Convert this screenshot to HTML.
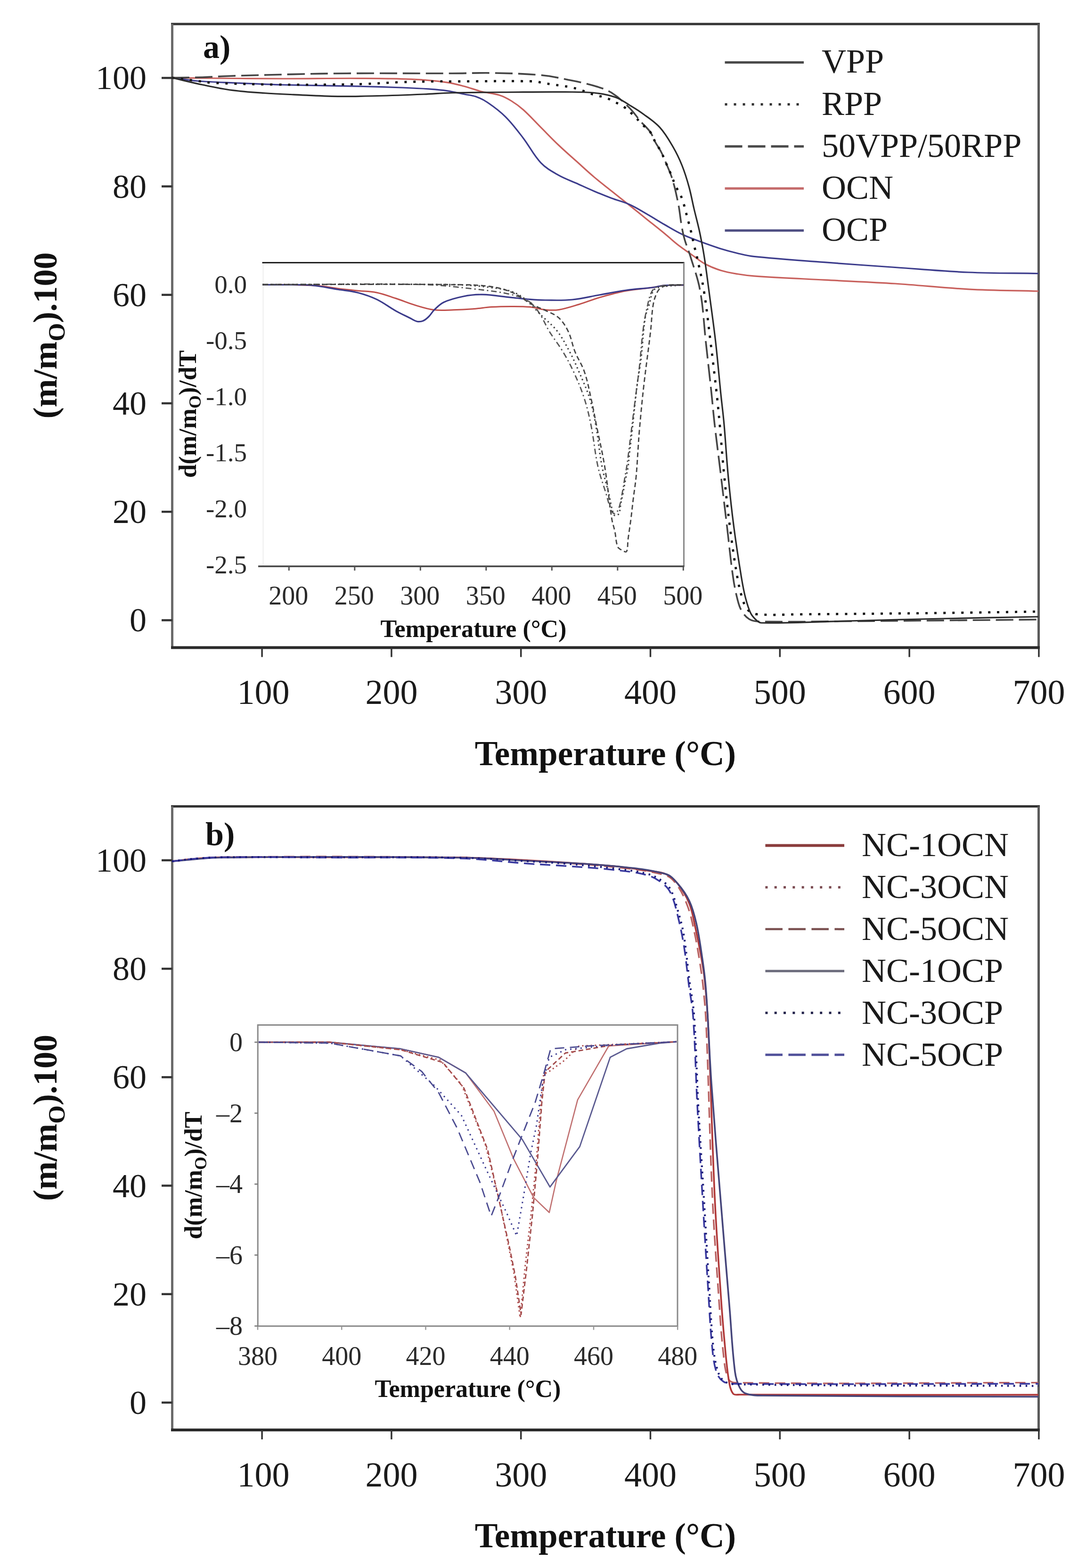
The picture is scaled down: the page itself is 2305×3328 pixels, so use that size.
<!DOCTYPE html>
<html><head><meta charset="utf-8"><title>TGA curves</title>
<style>
html,body{margin:0;padding:0;background:#fff;}
svg{display:block;}
text{font-family:"Liberation Serif","Times New Roman",serif;}
</style></head>
<body>
<svg width="2305" height="3328" viewBox="0 0 2305 3328">
<rect width="2305" height="3328" fill="#fff"/>
<line x1="363.0" y1="51" x2="2207.0" y2="51" stroke="#333" stroke-width="5"/>
<line x1="2204.5" y1="51" x2="2204.5" y2="1374.5" stroke="#5a5a5a" stroke-width="5"/>
<line x1="365.5" y1="51" x2="365.5" y2="1374.5" stroke="#6a6a6a" stroke-width="5"/>
<line x1="363.0" y1="1374.5" x2="2207.0" y2="1374.5" stroke="#2a2a2a" stroke-width="6"/>
<line x1="343" y1="1316.4" x2="365.5" y2="1316.4" stroke="#333" stroke-width="4.5"/>
<text x="311" y="1340.4" font-size="72" text-anchor="end" font-weight="normal" fill="#1a1a1a">0</text>
<line x1="343" y1="1086.2" x2="365.5" y2="1086.2" stroke="#333" stroke-width="4.5"/>
<text x="311" y="1110.2" font-size="72" text-anchor="end" font-weight="normal" fill="#1a1a1a">20</text>
<line x1="343" y1="856" x2="365.5" y2="856" stroke="#333" stroke-width="4.5"/>
<text x="311" y="880" font-size="72" text-anchor="end" font-weight="normal" fill="#1a1a1a">40</text>
<line x1="343" y1="625.8" x2="365.5" y2="625.8" stroke="#333" stroke-width="4.5"/>
<text x="311" y="649.8" font-size="72" text-anchor="end" font-weight="normal" fill="#1a1a1a">60</text>
<line x1="343" y1="395.6" x2="365.5" y2="395.6" stroke="#333" stroke-width="4.5"/>
<text x="311" y="419.6" font-size="72" text-anchor="end" font-weight="normal" fill="#1a1a1a">80</text>
<line x1="343" y1="165.4" x2="365.5" y2="165.4" stroke="#333" stroke-width="4.5"/>
<text x="311" y="189.4" font-size="72" text-anchor="end" font-weight="normal" fill="#1a1a1a">100</text>
<line x1="556.1" y1="1374.5" x2="556.1" y2="1394.5" stroke="#333" stroke-width="3.5"/>
<text x="559.1" y="1494" font-size="74" text-anchor="middle" font-weight="normal" fill="#1a1a1a">100</text>
<line x1="830.9" y1="1374.5" x2="830.9" y2="1394.5" stroke="#333" stroke-width="3.5"/>
<text x="830.9" y="1494" font-size="74" text-anchor="middle" font-weight="normal" fill="#1a1a1a">200</text>
<line x1="1105.7" y1="1374.5" x2="1105.7" y2="1394.5" stroke="#333" stroke-width="3.5"/>
<text x="1105.7" y="1494" font-size="74" text-anchor="middle" font-weight="normal" fill="#1a1a1a">300</text>
<line x1="1380.5" y1="1374.5" x2="1380.5" y2="1394.5" stroke="#333" stroke-width="3.5"/>
<text x="1380.5" y="1494" font-size="74" text-anchor="middle" font-weight="normal" fill="#1a1a1a">400</text>
<line x1="1655.3" y1="1374.5" x2="1655.3" y2="1394.5" stroke="#333" stroke-width="3.5"/>
<text x="1655.3" y="1494" font-size="74" text-anchor="middle" font-weight="normal" fill="#1a1a1a">500</text>
<line x1="1930.1" y1="1374.5" x2="1930.1" y2="1394.5" stroke="#333" stroke-width="3.5"/>
<text x="1930.1" y="1494" font-size="74" text-anchor="middle" font-weight="normal" fill="#1a1a1a">600</text>
<line x1="2204.9" y1="1374.5" x2="2204.9" y2="1394.5" stroke="#333" stroke-width="3.5"/>
<text x="2204.9" y="1494" font-size="74" text-anchor="middle" font-weight="normal" fill="#1a1a1a">700</text>
<text x="1285" y="1623.5" font-size="73" text-anchor="middle" font-weight="bold" fill="#111">Temperature (°C)</text>
<text transform="translate(120,712) rotate(-90)" font-size="72" font-weight="bold" fill="#111" text-anchor="middle">(m/m<tspan font-size="50" dy="17">O</tspan><tspan dy="-17">).100</tspan></text>
<text x="431" y="123" font-size="70" text-anchor="start" font-weight="bold" fill="#111">a)</text>
<path d="M1538.5,132.4 L1706,132.4" fill="none" stroke="#4a4a4a" stroke-width="5" stroke-linejoin="round"/>
<text x="1744" y="154.4" font-size="72" text-anchor="start" font-weight="normal" fill="#1a1a1a">VPP</text>
<path d="M1538.5,221.6 L1706,221.6" fill="none" stroke="#333" stroke-width="5" stroke-dasharray="5,14" stroke-linejoin="round"/>
<text x="1744" y="243.6" font-size="72" text-anchor="start" font-weight="normal" fill="#1a1a1a">RPP</text>
<path d="M1538.5,310.8 L1706,310.8" fill="none" stroke="#4a4a4a" stroke-width="5" stroke-dasharray="37,12" stroke-linejoin="round"/>
<text x="1744" y="332.8" font-size="72" text-anchor="start" font-weight="normal" fill="#1a1a1a">50VPP/50RPP</text>
<path d="M1538.5,400 L1706,400" fill="none" stroke="#c46a6a" stroke-width="5" stroke-linejoin="round"/>
<text x="1744" y="422" font-size="72" text-anchor="start" font-weight="normal" fill="#1a1a1a">OCN</text>
<path d="M1538.5,489.2 L1706,489.2" fill="none" stroke="#4e4e82" stroke-width="5" stroke-linejoin="round"/>
<text x="1744" y="511.2" font-size="72" text-anchor="start" font-weight="normal" fill="#1a1a1a">OCP</text>
<path d="M365,165 C395.6,165.4 419.4,165.7 450,166 C504,166.5 546,166.9 600,167 C657.6,167.1 702.4,166 760,166.3 C800.6,166.5 832.3,166.4 872.8,168.2 C899.9,169.4 921.1,171.2 948,174.8 C961.7,176.6 972.2,179.7 985.6,183.2 C999.2,186.8 1009.4,191.1 1023,194.5 C1036.2,197.8 1047.1,198 1060,202 C1069.5,205 1076.5,208.8 1085,214 C1094.7,219.9 1101.9,225.2 1110.4,232.8 C1124.6,245.5 1134.5,256.9 1148,270.4 C1161.5,283.9 1171.7,294.8 1185.6,308 C1198.7,320.5 1209.5,329.7 1223,341.8 C1236.6,354 1246.9,363.8 1260.8,375.6 C1274,386.8 1284.8,394.9 1298.3,405.7 C1311.9,416.6 1322.4,424.9 1336,435.8 C1349.5,446.6 1360,455.1 1373.5,465.9 C1387,476.7 1397.6,485 1411,496 C1420.6,503.9 1427.6,510.8 1437.4,518.5 C1448.8,527.4 1458.2,533.7 1470,542 C1479.6,548.8 1486.7,555 1497,560.5 C1508.3,566.5 1517.8,570.2 1530,574 C1542.3,577.8 1552.3,579.4 1565,581.5 C1577.5,583.6 1587.3,584.9 1600,585.8 C1653.9,589.5 1696,591.3 1750,594.2 C1804,597.1 1846,598.5 1900,602 C1955.8,605.6 1999.1,610.9 2055,613.8 C2108.6,616.6 2150.4,616.5 2204,618" fill="none" stroke="#c8605c" stroke-width="3.2" stroke-linejoin="round"/>
<path d="M365,165 C384.8,167.5 400.1,170.4 420,172 C448.7,174.3 471.2,174.7 500,176 C536,177.6 564,179 600,180 C657.6,181.6 702.4,181.8 760,183.2 C793.8,184 820.2,184.7 854,186 C874.3,186.8 890.1,187.5 910.4,188.9 C924,189.9 934.6,190.6 948,192.6 C961.6,194.6 972.1,197.3 985.6,200 C994.4,201.8 1001.6,202 1010,205 C1019.5,208.4 1026.8,212 1035.2,217.7 C1049.5,227.4 1060.6,235.6 1072.8,247.8 C1087.7,262.7 1097.5,276.2 1110.4,292.9 C1124.6,311.4 1132.2,329 1148,345.6 C1159.2,357.4 1171.3,363.7 1185.6,371.9 C1198.3,379.2 1209.5,382.7 1223,388.8 C1236.6,394.9 1247.1,399.9 1260.8,405.7 C1274.2,411.4 1284.7,415.7 1298.3,420.8 C1311.8,425.9 1322.9,428.1 1336,434 C1350,440.3 1360.1,446.9 1373.5,454.6 C1387.1,462.4 1397.4,469.2 1411,477 C1424.4,484.7 1434.7,491.2 1448.7,497.8 C1461.8,504 1472.6,507.7 1486.3,512.8 C1501.9,518.6 1514.1,523 1530,528 C1542.4,531.9 1552.3,534.5 1565,537.5 C1577.5,540.4 1587.2,543.1 1600,544.4 C1653.8,550 1696,552.5 1750,556.7 C1804,560.9 1846,563.7 1900,567.5 C1955.8,571.4 1999.1,575.6 2055,578 C2108.6,580.3 2150.4,579.6 2204,580.5" fill="none" stroke="#3c3c8c" stroke-width="3.2" stroke-linejoin="round"/>
<path d="M365,165 C388.4,164.6 406.6,164.7 430,164 C444.4,163.6 455.6,162.6 470,162 C484.4,161.4 495.6,161 510,160.6 C550.7,159.4 582.3,158.5 623,157.6 C663.7,156.7 695.3,155.9 736,155.7 C816.6,155.2 879.4,155.9 960,155.7 C992.4,155.6 1017.6,154.3 1050,155 C1085.3,155.7 1112.9,156.3 1148,159.5 C1168.3,161.3 1184,164.9 1204,168.9 C1224.6,173 1240.7,176 1260.8,182 C1274.7,186.1 1286.1,189.4 1298.3,197 C1313.2,206.3 1323.4,216.5 1336,229 C1345.6,238.5 1351.2,247.7 1360,258 C1367,266.1 1373.9,271.3 1380,280 C1385.1,287.2 1386.8,294.2 1391,302 C1395,309.4 1399.2,314.5 1403,322 C1407.5,330.7 1410.2,337.9 1414,347 C1418.1,356.7 1421.5,364.1 1425,374 C1428,382.5 1429.7,389.3 1432,398 C1434,405.9 1435.3,412.1 1437,420 C1438.5,427.2 1439.8,432.8 1441,440 C1443.4,454.7 1444.4,466.3 1447,481 C1448.7,490.8 1450.2,498.5 1453,508 C1456.7,520.8 1461.1,530.3 1465,543 C1473,569.5 1481.1,589.8 1486,617 C1493,655.4 1493.7,686.1 1498,725 C1502.3,764.2 1505.8,794.7 1510,834 C1512.5,857.7 1514,876.3 1516.7,900 C1521.2,939.1 1525.3,969.4 1530,1008.5 C1534.7,1047.6 1538.3,1077.9 1543,1117 C1547.7,1156 1550.3,1186.5 1556,1225.4 C1558.6,1243.4 1561.4,1257.4 1566,1275 C1568.2,1283.6 1570.4,1290.6 1575,1298 C1579.1,1304.6 1583.5,1310.1 1590,1314 C1596.1,1317.7 1602.6,1318.8 1610,1319 C1678.2,1320.5 1731.6,1319 1800,1318.5 C1945.4,1317.5 2058.6,1316.3 2204,1315" fill="none" stroke="#444" stroke-width="3.6" stroke-dasharray="37,12" stroke-linejoin="round"/>
<path d="M365,165 C384.8,167.5 400.2,169.6 420,172 C432.2,173.5 441.7,175.4 454,176 C501.1,178.1 537.8,178.8 585,179.5 C626.4,180.1 658.6,179.8 700,179.5 C726.3,179.3 746.7,179.2 773,178.3 C800.4,177.4 821.6,175.5 849,174.5 C876,173.5 897,173.2 924,172.8 C937,172.6 947,172.8 960,172.8 C1022.6,172.7 1071.5,171.5 1134,172.6 C1140.9,172.7 1146,175.1 1152.8,176.3 C1159.5,177.4 1164.8,178 1171.6,179 C1178.4,180 1183.6,180.9 1190.4,182 C1197.1,183 1202.4,183.5 1209,184.8 C1215.9,186.2 1221.3,187.4 1228,189.5 C1241.7,193.8 1251.9,198.5 1265.6,202.6 C1272.1,204.6 1277.7,204.2 1284,206.4 C1291.1,208.9 1296.2,212.4 1303,215.8 C1309.8,219.2 1315.8,220.9 1322,225.2 C1330.9,231.4 1337.1,237.5 1345,245 C1351.5,251.1 1355.7,256.7 1362,263 C1368.3,269.3 1374.8,273 1380,280 C1385.2,287 1386.8,294.2 1391,302 C1395,309.4 1399.2,314.5 1403,322 C1407.5,330.7 1410,338 1414,347 C1418,356 1421.2,362.9 1425,372 C1428.4,380.2 1430.3,387 1434,395 C1437.1,401.7 1440.9,406.3 1444,413 C1447,419.6 1448.8,425.1 1451,432 C1453.1,438.7 1454.2,444.2 1456,451 C1457.8,457.8 1459.2,463.2 1461,470 C1462.8,476.7 1464.4,481.8 1466,488.5 C1469.1,501.2 1471,511.2 1474,524 C1475.7,531.2 1477.4,536.7 1479,544 C1484.6,570.2 1489.8,590.5 1494,617 C1500.2,655.7 1503.2,686.1 1508,725 C1512.9,764.2 1516.6,794.7 1521,834 C1523.6,857.7 1525.3,876.2 1527.5,900 C1531.1,939 1533.1,969.5 1537,1008.5 C1540.9,1047.6 1544,1078 1549,1117 C1554,1156.1 1558.3,1186.6 1565,1225.4 C1567.7,1240.9 1570.3,1253 1575,1268 C1577.9,1277.4 1580,1285.9 1586,1293 C1590.8,1298.7 1597.4,1302.8 1605,1303.5 C1638.4,1306.7 1665.8,1304 1700,1303.8 C1808,1303.1 1892,1302.2 2000,1301 C2073.4,1300.2 2130.6,1299.1 2204,1298" fill="none" stroke="#111" stroke-width="4.8" stroke-dasharray="5,14" stroke-linejoin="round"/>
<path d="M365,165 C388.4,170.4 406.5,175.1 430,180 C452.1,184.6 469.3,188.4 491.6,191.4 C516.1,194.7 535.3,195.7 560,197.5 C582.6,199.1 600.3,199.8 623,200.8 C656.8,202.3 683.1,204.1 717,204.6 C746.9,205.1 770.1,204.3 800,203.5 C836,202.6 864,201.5 900,200 C921.6,199.1 938.4,197.5 960,197 C1010.4,195.9 1049.6,195.9 1100,195.5 C1136,195.2 1164,194.9 1200,195.2 C1221.9,195.4 1239.1,194.7 1260.8,197 C1277.4,198.7 1290.7,201 1306.4,206.4 C1317.8,210.3 1325.5,216.7 1336,223 C1345.8,228.9 1353.6,233.4 1362.8,240.2 C1376.8,250.5 1388.8,257.7 1400.4,270.3 C1412.5,283.5 1419.5,296.4 1428.6,312 C1436.4,325.4 1441.7,336.5 1447.5,351 C1453.9,367.1 1457.9,380.2 1462.5,397 C1467,413.4 1469.1,426.5 1473,443 C1476.8,459.1 1480.3,471.5 1483.9,487.7 C1486.9,501.2 1488.9,511.7 1491.4,525.3 C1493.7,537.7 1495.2,547.5 1497,560 C1500,580.5 1502,596.5 1504.7,617 C1509.8,655.9 1514.3,686.1 1518.8,725 C1523.3,764.2 1525.7,794.8 1529.7,834 C1532.1,857.8 1534.7,876.2 1536.8,900 C1540.3,939 1541.7,969.5 1545.4,1008.5 C1549.1,1047.6 1552.3,1078 1557.4,1117 C1562.5,1156.1 1567.2,1186.5 1573.6,1225.4 C1576.2,1241.1 1578.3,1253.4 1582.3,1268.8 C1585.4,1280.7 1587.9,1290.3 1593.2,1301.3 C1596.1,1307.3 1600.1,1311.5 1605,1316 C1608.3,1319 1611.5,1322 1616,1322 C1681.7,1322.7 1733.8,1319.6 1800,1318 C1872,1316.3 1928,1314.6 2000,1313 C2073.4,1311.4 2130.6,1310.4 2204,1309" fill="none" stroke="#2a2a2a" stroke-width="3.2" stroke-linejoin="round"/>
<rect x="556.5" y="557.5" width="895.0" height="644.5" fill="#fff"/>
<line x1="558.5" y1="557.5" x2="558.5" y2="1202" stroke="#eee" stroke-width="2"/>
<line x1="556.5" y1="557.5" x2="1452.5" y2="557.5" stroke="#222" stroke-width="3"/>
<line x1="1451.5" y1="557.5" x2="1451.5" y2="1202" stroke="#888" stroke-width="3"/>
<line x1="548" y1="1202" x2="1452.5" y2="1202" stroke="#444" stroke-width="3.5"/>
<line x1="613.3" y1="1202" x2="613.3" y2="1211" stroke="#555" stroke-width="3"/>
<text x="612.3" y="1283" font-size="56" text-anchor="middle" font-weight="normal" fill="#2a2a2a">200</text>
<line x1="752.8" y1="1202" x2="752.8" y2="1211" stroke="#555" stroke-width="3"/>
<text x="751.8" y="1283" font-size="56" text-anchor="middle" font-weight="normal" fill="#2a2a2a">250</text>
<line x1="892.3" y1="1202" x2="892.3" y2="1211" stroke="#555" stroke-width="3"/>
<text x="891.3" y="1283" font-size="56" text-anchor="middle" font-weight="normal" fill="#2a2a2a">300</text>
<line x1="1031.8" y1="1202" x2="1031.8" y2="1211" stroke="#555" stroke-width="3"/>
<text x="1030.8" y="1283" font-size="56" text-anchor="middle" font-weight="normal" fill="#2a2a2a">350</text>
<line x1="1171.3" y1="1202" x2="1171.3" y2="1211" stroke="#555" stroke-width="3"/>
<text x="1170.3" y="1283" font-size="56" text-anchor="middle" font-weight="normal" fill="#2a2a2a">400</text>
<line x1="1310.8" y1="1202" x2="1310.8" y2="1211" stroke="#555" stroke-width="3"/>
<text x="1309.8" y="1283" font-size="56" text-anchor="middle" font-weight="normal" fill="#2a2a2a">450</text>
<line x1="1450.3" y1="1202" x2="1450.3" y2="1211" stroke="#555" stroke-width="3"/>
<text x="1449.3" y="1283" font-size="56" text-anchor="middle" font-weight="normal" fill="#2a2a2a">500</text>
<text x="524" y="622.1" font-size="55" text-anchor="end" font-weight="normal" fill="#2a2a2a">0.0</text>
<text x="524" y="741.1" font-size="55" text-anchor="end" font-weight="normal" fill="#2a2a2a">-0.5</text>
<text x="524" y="860.1" font-size="55" text-anchor="end" font-weight="normal" fill="#2a2a2a">-1.0</text>
<text x="524" y="979.1" font-size="55" text-anchor="end" font-weight="normal" fill="#2a2a2a">-1.5</text>
<text x="524" y="1098.1" font-size="55" text-anchor="end" font-weight="normal" fill="#2a2a2a">-2.0</text>
<text x="524" y="1217.1" font-size="55" text-anchor="end" font-weight="normal" fill="#2a2a2a">-2.5</text>
<text x="1005" y="1352" font-size="52" text-anchor="middle" font-weight="bold" fill="#111">Temperature (°C)</text>
<text transform="translate(416,879) rotate(-90)" font-size="52" font-weight="bold" fill="#111" text-anchor="middle">d(m/m<tspan font-size="36" dy="10">O</tspan><tspan dy="-10">)/dT</tspan></text>
<path d="M557,604.5 C579.7,604.5 597.3,604 620,604.5 C641.6,604.9 658.5,605.2 680,607 C693.8,608.1 704.3,610.8 718,612.5 C732.6,614.4 744,615.5 758.7,617 C773.3,618.5 785,618.1 799.4,621 C814.3,624 825.5,628.6 840,633.3 C854.8,638.1 866,643.1 880.9,647.6 C895.4,651.9 906.7,655.9 921.6,657.8 C936,659.6 947.7,658.2 962.3,657.8 C977,657.4 988.4,656.8 1003,655.7 C1017.7,654.6 1029.1,652.6 1043.8,651.6 C1058.4,650.6 1069.8,650.4 1084.5,650.4 C1099.1,650.4 1110.5,650.2 1125,651.6 C1136.6,652.7 1145.4,656.3 1157,657.4 C1167.4,658.4 1175.8,659 1186,657.4 C1201.7,654.9 1213.7,650.6 1229,646 C1244.6,641.3 1256.3,636.1 1272,631.6 C1292.3,625.8 1308.2,621.2 1329,617.3 C1349.5,613.4 1365.8,612.9 1386.5,610 C1394.6,608.8 1400.8,606.6 1409,606 C1424,604.8 1435.9,605.4 1451,605" fill="none" stroke="#c0504c" stroke-width="3" stroke-linejoin="round"/>
<path d="M557,604.5 C572.5,604.5 584.5,604.3 600,604.5 C621.6,604.7 638.5,603.7 660,605.5 C681,607.3 697.1,611.2 718,614.5 C732.7,616.8 744.4,617.3 758.7,621 C773.7,624.8 785.4,628.7 799.4,635.4 C814.7,642.7 825.1,651.5 840,659.8 C850.6,665.7 859.2,669.6 870,675 C875.4,677.7 879.4,681 885,682.2 C889.4,683.1 893.8,682.7 898,681 C902.8,679 906.2,675.8 910,672 C914.7,667.4 916.8,662.3 921.6,657.8 C928.4,651.3 933.6,645.4 942,641.5 C955.6,635.1 967.8,632.2 982.7,629.2 C997.1,626.3 1008.7,624.9 1023.4,625.2 C1045.4,625.7 1062.5,629.1 1084.5,631.3 C1099.1,632.8 1110.4,634.3 1125,635.4 C1136.5,636.3 1145.5,636.9 1157,637 C1177.7,637.1 1194,638 1214.6,636 C1235.4,634 1251.3,629.6 1272,626 C1292.5,622.4 1308.4,618.9 1329,616 C1349.6,613.1 1365.9,612.6 1386.5,610 C1394.8,608.9 1401.1,606.4 1409.4,605.8 C1424.3,604.6 1436,605.3 1451,605" fill="none" stroke="#3a3a8a" stroke-width="3.2" stroke-linejoin="round"/>
<path d="M557,604 C680.5,604 776.6,601.5 900,604 C937.2,604.8 966,608.8 1003,613 C1032.5,616.4 1055.8,618.3 1084.5,625 C1099.7,628.6 1112.3,633 1125,641.5 C1134.3,647.7 1139.3,656.4 1145.6,666 C1154,678.7 1157.9,690.3 1165.9,703.3 C1175.6,719.1 1185,730.3 1194.6,746.2 C1203.6,761.2 1210.2,773.3 1217.5,789.2 C1226.7,809.4 1233.6,825.4 1240.4,846.5 C1246.9,866.7 1250.5,883 1254.7,903.8 C1260.8,934.6 1262.3,959.2 1269,989.8 C1273.6,1010.8 1279.9,1026.5 1286.2,1047.1 C1290.3,1060.5 1292.2,1071.9 1297.7,1084.4 C1299,1087.3 1302.7,1090.7 1305,1090 C1308.2,1089.1 1311.4,1084.2 1313,1080 C1316.8,1069.8 1317.8,1060.9 1320,1050 C1322.5,1037.5 1323.9,1027.6 1326,1015 C1327.8,1004.2 1329.5,995.8 1331,985 C1333.8,965.2 1335.5,949.8 1338,930 C1341.6,901.2 1344.4,878.8 1348,850 C1351.2,824.8 1354.1,805.2 1357,780 C1360.3,751.2 1361.2,728.7 1365,700 C1367.4,681.9 1369.9,667.8 1374,650 C1376.7,638.3 1378.3,628 1384,618 C1386.9,612.9 1392.1,609.2 1398,608 C1416.2,604.3 1431.9,605.8 1451,604.5" fill="none" stroke="#555" stroke-width="2.8" stroke-dasharray="12,6,3,6" stroke-linejoin="round"/>
<path d="M557,604 C698.5,604 808.6,602.2 950,604 C982.5,604.4 1008,605.5 1040,610 C1062,613.1 1081.2,614.4 1100,625 C1122.4,637.6 1135.1,656.4 1154.4,674.6 C1165,684.6 1174.3,691.8 1183.1,703.3 C1193.9,717.5 1200.4,730.3 1208.9,746.2 C1216.9,761.2 1222.2,773.5 1228.9,789.2 C1237.7,809.6 1245.3,825.4 1251.9,846.5 C1258.2,866.6 1261.1,883 1264.8,903.8 C1270.3,934.6 1271.9,959.1 1277.7,989.8 C1281.7,1010.7 1286.9,1026.5 1292,1047.1 C1296.1,1063.6 1297.1,1079.9 1303.4,1093 C1304.7,1095.7 1311.5,1093.7 1313,1091 C1316.8,1084.2 1316.1,1075.4 1318,1066.6 C1319.4,1060 1320.7,1055 1322,1048.4 C1324,1038.1 1325.2,1030 1327.2,1019.7 C1329.2,1009.3 1331.4,1001.4 1333,991 C1334.4,981.7 1334.6,974.4 1335.7,965 C1337.7,947.2 1339.5,933.4 1341.5,915.6 C1345.4,880.4 1347.8,853 1352.1,817.9 C1354.7,797.2 1358.2,781.3 1360.7,760.6 C1364.4,729.7 1364.7,705.3 1369.3,674.6 C1370.9,664 1374.9,656.3 1378,646 C1381.1,635.7 1381.6,626.2 1386.5,617.3 C1388.8,613.2 1393.3,610.9 1398,610 C1416.5,606.3 1431.9,606.5 1451,604.5" fill="none" stroke="#444" stroke-width="3.2" stroke-dasharray="3,6" stroke-linejoin="round"/>
<path d="M557,604 C698.5,604 808.5,602.8 950,604 C982.4,604.3 1008,603.9 1040,608 C1058.4,610.4 1073,614.7 1090,622 C1104.9,628.4 1114.3,638.2 1128.7,646 C1139.5,651.9 1149,654.5 1160,660 C1169.6,664.8 1178.4,667.4 1186,674.6 C1194.9,683 1200.6,692.1 1206,703.3 C1213,717.8 1214.3,731.1 1220.3,746.2 C1226.6,762 1234.9,773.1 1240.4,789.2 C1247.3,809.2 1250,825.8 1254.7,846.5 C1259.3,867 1262.1,883.2 1266.2,903.8 C1272.4,934.8 1278.3,958.7 1283.4,989.8 C1290,1029.9 1292.3,1061.6 1298.6,1101.7 C1300.1,1111.2 1303,1118.3 1305,1127.8 C1307.5,1139.4 1306.9,1149.8 1311,1160.3 C1312.5,1164.3 1316.9,1166 1320.7,1168.1 C1323.6,1169.7 1328.6,1172.9 1329.8,1170.7 C1333.1,1164.5 1331.7,1154 1333,1144.7 C1335,1129.7 1337,1118 1338.9,1103 C1341,1087.1 1342.1,1074.7 1344.1,1058.8 C1346.1,1042.4 1348.4,1029.7 1350,1013.2 C1352.2,990.3 1352.9,972.4 1354.5,949.5 C1355.4,936.4 1355.9,926.1 1357.1,913 C1360.2,878.7 1362.6,852.1 1366.5,817.9 C1371.2,776.6 1376,744.6 1380.8,703.3 C1383.2,682.7 1383,666.3 1386.5,646 C1388.1,636.3 1390.8,628.7 1395,620 C1397,615.8 1399.8,612.5 1403.7,610.1 C1408.8,607.1 1414,605.7 1420,605 C1431,603.7 1439.8,604.7 1451,604.5" fill="none" stroke="#444" stroke-width="2.8" stroke-dasharray="10,6" stroke-linejoin="round"/>
<line x1="363.0" y1="1711.5" x2="2207.0" y2="1711.5" stroke="#333" stroke-width="5"/>
<line x1="2204.5" y1="1711.5" x2="2204.5" y2="3035.0" stroke="#5a5a5a" stroke-width="5"/>
<line x1="365.5" y1="1711.5" x2="365.5" y2="3035.0" stroke="#6a6a6a" stroke-width="5"/>
<line x1="363.0" y1="3035.0" x2="2207.0" y2="3035.0" stroke="#2a2a2a" stroke-width="6"/>
<line x1="343" y1="2976.9" x2="365.5" y2="2976.9" stroke="#333" stroke-width="4.5"/>
<text x="311" y="3000.9" font-size="72" text-anchor="end" font-weight="normal" fill="#1a1a1a">0</text>
<line x1="343" y1="2746.7" x2="365.5" y2="2746.7" stroke="#333" stroke-width="4.5"/>
<text x="311" y="2770.7" font-size="72" text-anchor="end" font-weight="normal" fill="#1a1a1a">20</text>
<line x1="343" y1="2516.5" x2="365.5" y2="2516.5" stroke="#333" stroke-width="4.5"/>
<text x="311" y="2540.5" font-size="72" text-anchor="end" font-weight="normal" fill="#1a1a1a">40</text>
<line x1="343" y1="2286.3" x2="365.5" y2="2286.3" stroke="#333" stroke-width="4.5"/>
<text x="311" y="2310.3" font-size="72" text-anchor="end" font-weight="normal" fill="#1a1a1a">60</text>
<line x1="343" y1="2056.1" x2="365.5" y2="2056.1" stroke="#333" stroke-width="4.5"/>
<text x="311" y="2080.1" font-size="72" text-anchor="end" font-weight="normal" fill="#1a1a1a">80</text>
<line x1="343" y1="1825.9" x2="365.5" y2="1825.9" stroke="#333" stroke-width="4.5"/>
<text x="311" y="1849.9" font-size="72" text-anchor="end" font-weight="normal" fill="#1a1a1a">100</text>
<line x1="556.1" y1="3035.0" x2="556.1" y2="3055.0" stroke="#333" stroke-width="3.5"/>
<text x="559.1" y="3154.5" font-size="74" text-anchor="middle" font-weight="normal" fill="#1a1a1a">100</text>
<line x1="830.9" y1="3035.0" x2="830.9" y2="3055.0" stroke="#333" stroke-width="3.5"/>
<text x="830.9" y="3154.5" font-size="74" text-anchor="middle" font-weight="normal" fill="#1a1a1a">200</text>
<line x1="1105.7" y1="3035.0" x2="1105.7" y2="3055.0" stroke="#333" stroke-width="3.5"/>
<text x="1105.7" y="3154.5" font-size="74" text-anchor="middle" font-weight="normal" fill="#1a1a1a">300</text>
<line x1="1380.5" y1="3035.0" x2="1380.5" y2="3055.0" stroke="#333" stroke-width="3.5"/>
<text x="1380.5" y="3154.5" font-size="74" text-anchor="middle" font-weight="normal" fill="#1a1a1a">400</text>
<line x1="1655.3" y1="3035.0" x2="1655.3" y2="3055.0" stroke="#333" stroke-width="3.5"/>
<text x="1655.3" y="3154.5" font-size="74" text-anchor="middle" font-weight="normal" fill="#1a1a1a">500</text>
<line x1="1930.1" y1="3035.0" x2="1930.1" y2="3055.0" stroke="#333" stroke-width="3.5"/>
<text x="1930.1" y="3154.5" font-size="74" text-anchor="middle" font-weight="normal" fill="#1a1a1a">600</text>
<line x1="2204.9" y1="3035.0" x2="2204.9" y2="3055.0" stroke="#333" stroke-width="3.5"/>
<text x="2204.9" y="3154.5" font-size="74" text-anchor="middle" font-weight="normal" fill="#1a1a1a">700</text>
<text x="1285" y="3284" font-size="73" text-anchor="middle" font-weight="bold" fill="#111">Temperature (°C)</text>
<text transform="translate(120,2372.5) rotate(-90)" font-size="72" font-weight="bold" fill="#111" text-anchor="middle">(m/m<tspan font-size="50" dy="17">O</tspan><tspan dy="-17">).100</tspan></text>
<text x="436" y="1794" font-size="70" text-anchor="start" font-weight="bold" fill="#111">b)</text>
<path d="M1624.4,1794.4 L1792,1794.4" fill="none" stroke="#8a3c3c" stroke-width="6" stroke-linejoin="round"/>
<text x="1829" y="1817.4" font-size="72" text-anchor="start" font-weight="normal" fill="#1a1a1a">NC-1OCN</text>
<path d="M1624.4,1883.2 L1792,1883.2" fill="none" stroke="#7a4a50" stroke-width="5" stroke-dasharray="5,14.3" stroke-linejoin="round"/>
<text x="1829" y="1906.2" font-size="72" text-anchor="start" font-weight="normal" fill="#1a1a1a">NC-3OCN</text>
<path d="M1624.4,1972.1 L1792,1972.1" fill="none" stroke="#7a5050" stroke-width="4.5" stroke-dasharray="36.5,12.5" stroke-linejoin="round"/>
<text x="1829" y="1995.1" font-size="72" text-anchor="start" font-weight="normal" fill="#1a1a1a">NC-5OCN</text>
<path d="M1624.4,2060.9 L1792,2060.9" fill="none" stroke="#6a6a7a" stroke-width="5" stroke-linejoin="round"/>
<text x="1829" y="2083.9" font-size="72" text-anchor="start" font-weight="normal" fill="#1a1a1a">NC-1OCP</text>
<path d="M1624.4,2149.8 L1792,2149.8" fill="none" stroke="#22224a" stroke-width="5" stroke-dasharray="5,14.3" stroke-linejoin="round"/>
<text x="1829" y="2172.8" font-size="72" text-anchor="start" font-weight="normal" fill="#1a1a1a">NC-3OCP</text>
<path d="M1624.4,2238.7 L1792,2238.7" fill="none" stroke="#50509a" stroke-width="5" stroke-dasharray="36.5,12.5" stroke-linejoin="round"/>
<text x="1829" y="2261.7" font-size="72" text-anchor="start" font-weight="normal" fill="#1a1a1a">NC-5OCP</text>
<path d="M365,1828 C403.9,1824.9 434,1820 473,1819.5 C655.4,1817.1 797.5,1817.9 980,1820 C1030.8,1820.6 1070.3,1823.8 1121,1827 C1185.5,1831 1235.8,1833.2 1300,1840 C1340.9,1844.3 1374.5,1846.8 1413,1858 C1424.2,1861.2 1431.2,1870.4 1438,1880 C1448.2,1894.5 1453.8,1908.2 1460,1925 C1466.4,1942.4 1469.1,1956.8 1473,1975 C1478.1,1998.2 1481.2,2016.5 1485,2040 C1488.4,2061.5 1490.8,2078.3 1493,2100 C1495.9,2128.7 1497.8,2151.1 1499,2180 C1504.6,2309.5 1506,2410.5 1512,2540 C1515.7,2619.3 1520.5,2680.8 1526,2760 C1528.8,2799.6 1530.5,2830.6 1535,2870 C1537.3,2890 1538.2,2907.4 1545,2925 C1547.2,2930.6 1553.6,2934.5 1560,2934.6 C1790.9,2938 1972.2,2934.6 2204,2934.6" fill="none" stroke="#b86060" stroke-width="3.4" stroke-dasharray="22,12" stroke-linejoin="round"/>
<path d="M365,1828 C384.8,1825.8 400.2,1823.6 420,1822 C439,1820.5 453.9,1819.7 473,1819.5 C554.7,1818.8 618.3,1819.4 700,1819.5 C800.8,1819.6 879.2,1818.4 980,1820 C1030.8,1820.8 1070.3,1823.1 1121,1826 C1185.5,1829.6 1235.7,1832.4 1300,1838 C1327.3,1840.4 1348.3,1843.9 1375.4,1848 C1389,1850.1 1400.7,1849.9 1413,1855.2 C1423.3,1859.7 1430.9,1866.3 1438,1875.2 C1448.9,1888.9 1456.4,1901.5 1463,1917.8 C1469.9,1934.9 1471.6,1949.8 1475.7,1968 C1480.7,1990.4 1484.2,2008 1488.2,2030.6 C1491.4,2048.6 1493.9,2062.6 1495.7,2080.7 C1499.3,2116.4 1501.6,2144.2 1503.3,2180 C1509.3,2309.8 1510.9,2410.8 1517,2540.6 C1520.5,2616 1524.9,2674.6 1530,2750 C1532.4,2786 1534.6,2814 1538,2850 C1540.7,2878.8 1542.3,2901.5 1547,2930 C1548.7,2940.4 1550.4,2950.7 1556,2958 C1558.7,2961.5 1564.9,2960 1570,2960 C1798.2,2960.8 1975.8,2960.3 2204,2960.4" fill="none" stroke="#b03838" stroke-width="3.6" stroke-linejoin="round"/>
<path d="M365,1828 C403.9,1825.1 434,1820.5 473,1820 C655.4,1817.8 797.5,1818.5 980,1820.5 C1030.8,1821 1070.3,1824.2 1121,1827 C1185.5,1830.5 1235.8,1831.8 1300,1838 C1340.9,1841.9 1374.2,1844.6 1413,1855 C1423.9,1857.9 1430.5,1866.4 1438,1875 C1448.5,1887 1456.2,1897.6 1463,1912 C1470.6,1928.2 1474,1942.4 1478,1960 C1483.7,1984.9 1486.2,2004.7 1490,2030 C1493,2049.7 1495.1,2065.1 1497,2085 C1499.3,2108.3 1500.2,2126.6 1501.6,2150 C1504.9,2204 1506.2,2246.1 1510,2300 C1516.1,2386.7 1522,2454 1529,2540.6 C1535.8,2625 1541.4,2690.6 1548.4,2775 C1552.5,2824.2 1553.8,2862.9 1560,2911.7 C1561.6,2924.1 1564.5,2934.2 1570,2945 C1573,2950.9 1577.5,2955.9 1583.6,2958 C1595.5,2962 1606.8,2961.9 1620,2962 C1830.2,2964.2 1993.8,2963.6 2204,2964.5" fill="none" stroke="#45457a" stroke-width="3.6" stroke-linejoin="round"/>
<path d="M365,1828 C384.8,1825.8 400.2,1823.6 420,1822 C439,1820.5 453.9,1819.6 473,1819.5 C554.7,1818.9 618.3,1819.6 700,1820 C800.8,1820.5 879.3,1818.9 980,1822 C1030.9,1823.6 1070.2,1829.3 1121,1833 C1149.4,1835.1 1171.6,1835.9 1200,1838 C1236,1840.6 1264.1,1841.9 1300,1846 C1327.3,1849.1 1349.4,1850.4 1375.4,1858 C1389,1862 1399.2,1869 1410,1878 C1417.3,1884.1 1421.9,1891.2 1425.6,1900 C1432.7,1917.1 1435.6,1931.8 1440,1950 C1445.1,1971.4 1448.6,1988.3 1452,2010 C1456.5,2038.7 1458.3,2061.2 1462,2090 C1465.1,2113.8 1469.3,2132.1 1471,2156 C1475.8,2224 1476.5,2277.2 1480,2345.3 C1483.7,2415.6 1486.9,2470.3 1491,2540.6 C1495.1,2611 1498.5,2665.7 1503,2736 C1505.7,2778.1 1506.9,2811 1511,2853 C1513,2873.7 1514.1,2890.5 1520,2910 C1522.7,2919 1527.6,2927 1535,2932 C1542,2936.8 1550.8,2936.9 1560,2937 C1791.7,2938.7 1972.2,2937 2204,2937" fill="none" stroke="#3a3aa0" stroke-width="3.6" stroke-dasharray="22,12" stroke-linejoin="round"/>
<path d="M365,1828 C384.8,1825.8 400.2,1823.6 420,1822 C439,1820.5 453.9,1819.7 473,1819.5 C554.7,1818.8 618.3,1819.3 700,1819.5 C800.8,1819.7 879.2,1818.5 980,1820.5 C1030.8,1821.5 1070.3,1825.1 1121,1828 C1149.5,1829.6 1171.6,1830.6 1200,1833 C1236,1836 1264.1,1838.5 1300,1843 C1327.3,1846.5 1349.3,1847.8 1375.4,1855.2 C1390,1859.3 1401,1866.2 1413,1875.2 C1419.1,1879.8 1422.4,1885.8 1425.6,1892.8 C1431.4,1905.6 1434.1,1916.7 1438,1930.4 C1443.1,1948.3 1447.5,1962.2 1450.6,1980.5 C1456.6,2016.3 1458.6,2044.6 1463.2,2080.7 C1466.7,2107.8 1471.3,2128.7 1473.2,2156 C1478,2224 1478.4,2277.2 1482,2345.3 C1485.8,2415.6 1489.5,2470.3 1493.8,2540.6 C1498,2610.9 1501.1,2665.7 1505.5,2736 C1508.1,2778.1 1509.2,2811 1513.3,2853 C1515.1,2871.9 1516.9,2886.9 1522,2905 C1524.7,2914.7 1527.9,2923.8 1535,2930 C1541.6,2935.7 1550.6,2937.8 1560,2938 C1791.4,2942 1972.2,2940.3 2204,2941.6" fill="none" stroke="#1a1a78" stroke-width="4.2" stroke-dasharray="3.5,9.5" stroke-linejoin="round"/>
<rect x="547.2" y="2175.5" width="890.8" height="639.0999999999999" fill="#fff" stroke="#8a8a8a" stroke-width="3"/>
<line x1="547" y1="2814.6" x2="547" y2="2822.6" stroke="#999" stroke-width="2.5"/>
<text x="547" y="2897" font-size="56" text-anchor="middle" font-weight="normal" fill="#2a2a2a">380</text>
<line x1="725.2" y1="2814.6" x2="725.2" y2="2822.6" stroke="#999" stroke-width="2.5"/>
<text x="725.2" y="2897" font-size="56" text-anchor="middle" font-weight="normal" fill="#2a2a2a">400</text>
<line x1="903.5" y1="2814.6" x2="903.5" y2="2822.6" stroke="#999" stroke-width="2.5"/>
<text x="903.5" y="2897" font-size="56" text-anchor="middle" font-weight="normal" fill="#2a2a2a">420</text>
<line x1="1081.7" y1="2814.6" x2="1081.7" y2="2822.6" stroke="#999" stroke-width="2.5"/>
<text x="1081.7" y="2897" font-size="56" text-anchor="middle" font-weight="normal" fill="#2a2a2a">440</text>
<line x1="1260" y1="2814.6" x2="1260" y2="2822.6" stroke="#999" stroke-width="2.5"/>
<text x="1260" y="2897" font-size="56" text-anchor="middle" font-weight="normal" fill="#2a2a2a">460</text>
<line x1="1438.2" y1="2814.6" x2="1438.2" y2="2822.6" stroke="#999" stroke-width="2.5"/>
<text x="1438.2" y="2897" font-size="56" text-anchor="middle" font-weight="normal" fill="#2a2a2a">480</text>
<line x1="540.2" y1="2212" x2="547.2" y2="2212" stroke="#777" stroke-width="2.5"/>
<text x="515" y="2231" font-size="56" text-anchor="end" font-weight="normal" fill="#2a2a2a">0</text>
<line x1="540.2" y1="2362.6" x2="547.2" y2="2362.6" stroke="#777" stroke-width="2.5"/>
<text x="515" y="2381.6" font-size="56" text-anchor="end" font-weight="normal" fill="#2a2a2a">–2</text>
<line x1="540.2" y1="2513.2" x2="547.2" y2="2513.2" stroke="#777" stroke-width="2.5"/>
<text x="515" y="2532.2" font-size="56" text-anchor="end" font-weight="normal" fill="#2a2a2a">–4</text>
<line x1="540.2" y1="2663.8" x2="547.2" y2="2663.8" stroke="#777" stroke-width="2.5"/>
<text x="515" y="2682.8" font-size="56" text-anchor="end" font-weight="normal" fill="#2a2a2a">–6</text>
<line x1="540.2" y1="2814.4" x2="547.2" y2="2814.4" stroke="#777" stroke-width="2.5"/>
<text x="515" y="2833.4" font-size="56" text-anchor="end" font-weight="normal" fill="#2a2a2a">–8</text>
<text x="993" y="2965" font-size="52" text-anchor="middle" font-weight="bold" fill="#111">Temperature (°C)</text>
<text transform="translate(428,2495) rotate(-90)" font-size="52" font-weight="bold" fill="#111" text-anchor="middle">d(m/m<tspan font-size="36" dy="10">O</tspan><tspan dy="-10">)/dT</tspan></text>
<path d="M549,2212 L700,2212 L850,2226 L931.2,2244.1 L988.3,2277.2 L1048.5,2358.4 L1090.6,2460.7 L1132.7,2541.9 L1165.8,2573.5 L1180.8,2505.8 L1226,2334.4 L1292,2220 L1436,2211" fill="none" stroke="#c07070" stroke-width="2.6" stroke-linejoin="round"/>
<path d="M549,2212 L700,2212 L850,2226 L931.2,2244.1 L988.3,2277.2 L1108.6,2418.6 L1167.3,2519.3 L1230.5,2433.6 L1295.1,2244.1 L1330,2226 L1400,2214 L1436,2211" fill="none" stroke="#5a5a90" stroke-width="2.8" stroke-linejoin="round"/>
<path d="M549,2212 L700,2212 L850,2228 L940,2255 L985,2310 L1035,2440 L1062,2560 L1082,2650 L1094,2710 L1106,2790 L1118,2690 L1130,2580 L1141,2460 L1150,2340 L1157,2275 L1200,2235 L1300,2218 L1436,2211" fill="none" stroke="#a04848" stroke-width="2.8" stroke-dasharray="10,6" stroke-linejoin="round"/>
<path d="M549,2212 L700,2212 L850,2228 L934.2,2250 L979.3,2301.3 L1030.5,2430.6 L1060.5,2551 L1078.6,2641 L1090.6,2701.3 L1104.1,2797 L1114.7,2686.2 L1126.7,2581 L1138.7,2460.7 L1147.7,2340.4 L1153.8,2280 L1165.8,2274 L1198.9,2250 L1229,2220 L1436,2211" fill="none" stroke="#b05050" stroke-width="3" stroke-dasharray="3,6" stroke-linejoin="round"/>
<path d="M549,2212 L700,2214 L850,2241 L922.2,2304.3 L979.3,2367.4 L1030.5,2478.7 L1075.6,2575 L1096.6,2623 L1111.7,2535.9 L1126.7,2445.6 L1138.7,2388.5 L1150.8,2304.3 L1165.8,2244.1 L1200,2228 L1300,2218 L1436,2211" fill="none" stroke="#3a3a90" stroke-width="3" stroke-dasharray="3,8" stroke-linejoin="round"/>
<path d="M549,2212 L700,2214 L850,2241 L895.1,2274.2 L931.2,2319.3 L970.3,2394.5 L1018.4,2508.8 L1042.5,2581 L1060.5,2535.9 L1090.6,2454.7 L1111.7,2400.5 L1135.7,2340.4 L1153.8,2280.2 L1168.8,2226.1 L1250,2220 L1436,2211" fill="none" stroke="#4a4a90" stroke-width="2.8" stroke-dasharray="20,12" stroke-linejoin="round"/>
</svg>
</body></html>
